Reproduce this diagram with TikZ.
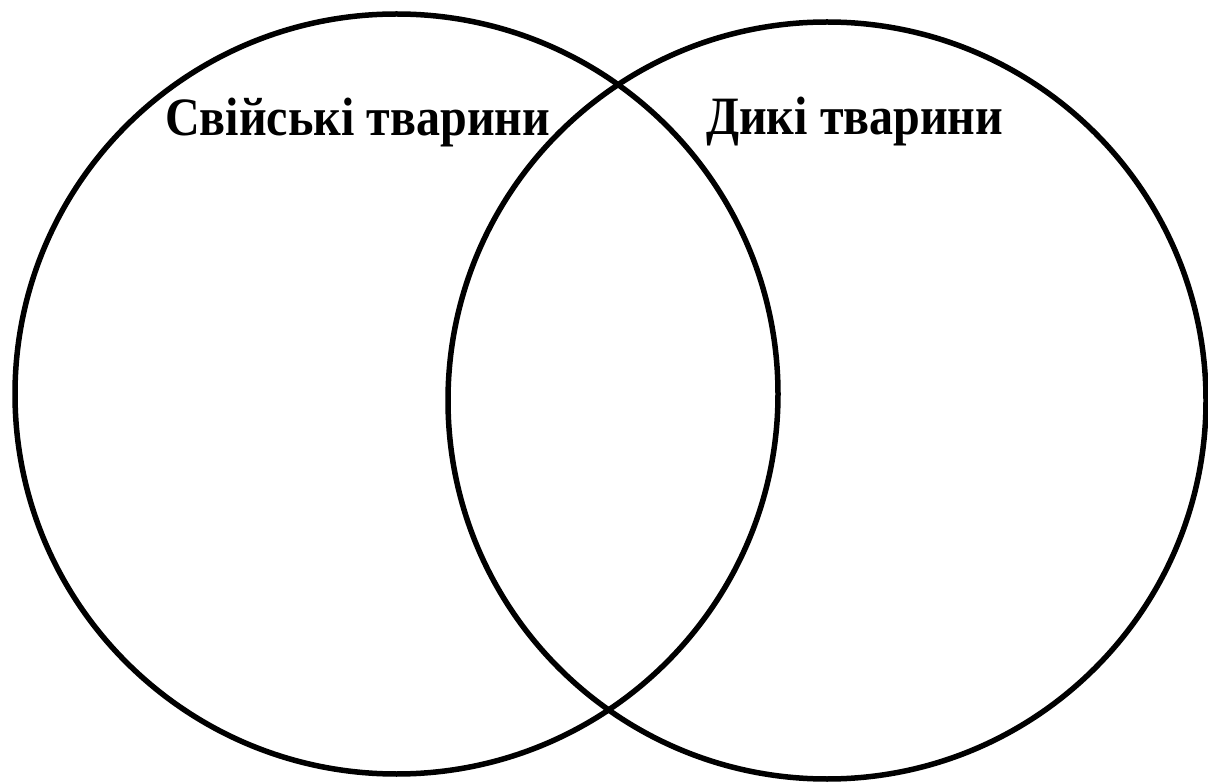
\documentclass[tikz,border=0pt]{standalone}
\usepackage{fontspec}
\setmainfont{Liberation Serif}
\newfontfamily\lblfont[FakeStretch=0.89]{Liberation Serif}
\begin{document}
\begin{tikzpicture}[x=1pt,y=-1pt,
  ring/.style={draw=black,line width=5.5pt},
  lbl/.style={font=\lblfont\bfseries\fontsize{54}{54}\selectfont,inner sep=0pt,anchor=base west}]
\useasboundingbox (0,0) rectangle (1208,783);
\draw[ring] (396.5,394) ellipse [x radius=381.5, y radius=380];
\draw[ring] (827,400.5) ellipse [x radius=379, y radius=378.5];
\node[lbl] (dom) at (165,136) {Свійські тварини};
\node[lbl] (wild) at (706,135) {Дикі тварини};
\end{tikzpicture}
\end{document}
